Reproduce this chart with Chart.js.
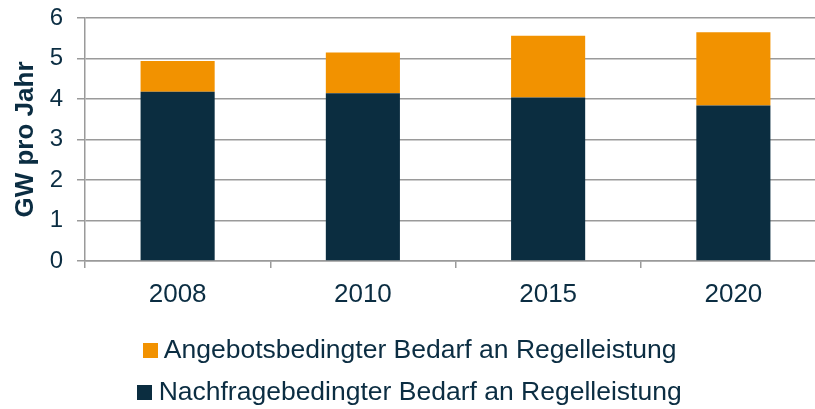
<!DOCTYPE html>
<html>
<head>
<meta charset="utf-8">
<script src="https://cdn.jsdelivr.net/npm/chart.js@4"></script>
<style>
html,body{margin:0;padding:0;background:#fff;overflow:hidden;}
#wrap{width:815px;height:409px;overflow:hidden;}
</style>
</head>
<body>
<div id="wrap"><canvas id="c" width="830" height="416"></canvas></div>
<script>
const categories = ['2008', '2010', '2015', '2020'];
const nachfrage = [4.18, 4.14, 4.04, 3.84];
const angebot = [0.76, 1.01, 1.52, 1.81];
const yTicks = [0, 1, 2, 3, 4, 5, 6];
const seriesNames = ['Nachfragebedingter Bedarf an Regelleistung', 'Angebotsbedingter Bedarf an Regelleistung'];
const yTitle = 'GW pro Jahr';

const textColor = '#0B2D42';
const gridColor = '#9A9A9A';
const fam = 'Liberation Sans, Arial, sans-serif';
const colors = ['#0B2D40', '#F29200'];

function swatch(color) {
  const cv = document.createElement('canvas');
  cv.width = 15; cv.height = 15;
  const cx = cv.getContext('2d');
  cx.fillStyle = color;
  cx.fillRect(0, 0, 15, 15);
  return cv;
}

new Chart(document.getElementById('c'), {
  type: 'bar',
  data: {
    labels: categories,
    datasets: [
      { label: seriesNames[0], data: nachfrage, backgroundColor: colors[0], borderWidth: 0 },
      { label: seriesNames[1], data: angebot, backgroundColor: colors[1], borderWidth: 0 }
    ]
  },
  options: {
    responsive: false,
    animation: false,
    layout: { padding: { top: 0, left: 0, right: 4, bottom: 0 } },
    datasets: { bar: { barPercentage: 0.4, categoryPercentage: 1.0 } },
    plugins: {
      tooltip: { enabled: false },
      legend: {
        position: 'bottom',
        reverse: true,
        labels: {
          color: textColor,
          font: { family: fam, size: 26.5 },
          usePointStyle: true,
          pointStyleWidth: 1,
          boxHeight: 15,
          padding: 16,
          generateLabels: (chart) => {
            const items = Chart.defaults.plugins.legend.labels.generateLabels(chart);
            items.forEach(it => { it.pointStyle = swatch(colors[it.datasetIndex]); });
            return items;
          }
        }
      }
    },
    scales: {
      x: {
        stacked: true,
        offset: true,
        grid: { offset: true, drawOnChartArea: false, drawTicks: true, tickLength: 7, color: gridColor, lineWidth: 1.5 },
        border: { color: gridColor, width: 1.5 },
        ticks: { color: textColor, font: { family: fam, size: 26 }, padding: 11 },
        afterFit: (s) => { s.height = 60; }
      },
      y: {
        stacked: true,
        min: 0,
        max: 6,
        afterBuildTicks: (axis) => { axis.ticks = yTicks.map(v => ({ value: v })); },
        grid: { color: gridColor, lineWidth: 1.5, tickLength: 8 },
        border: { color: gridColor, width: 1.5 },
        ticks: { color: textColor, font: { family: fam, size: 24 }, padding: 14 },
        title: { display: true, text: yTitle, color: textColor, font: { family: fam, size: 26, weight: 'bold' }, padding: { top: 10, bottom: 0 } },
        afterFit: (s) => { s.width = 85; s.paddingTop = 18; }
      }
    }
  }
});
</script>
</body>
</html>
